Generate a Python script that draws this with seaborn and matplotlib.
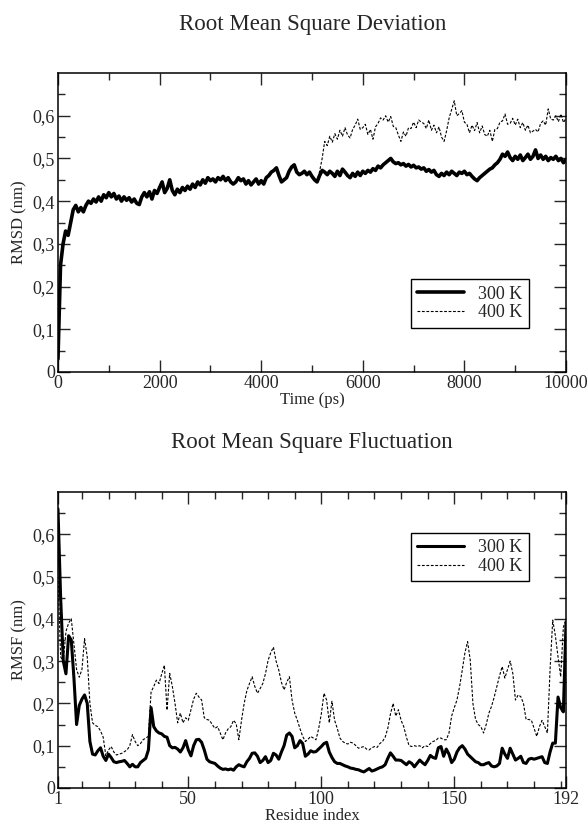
import numpy as np
import pandas as pd
import matplotlib
matplotlib.use("Agg")
import matplotlib.pyplot as plt
from matplotlib.ticker import FuncFormatter, FixedLocator
import seaborn as sns

# RMSD, one value every 50 ps (0 .. 10000 ps)
rmsd_step = 50
rmsd_300 = [
    0.03, 0.25, 0.30, 0.33, 0.32, 0.35, 0.38, 0.39, 0.375, 0.385,
    0.375, 0.39, 0.40, 0.395, 0.405, 0.398, 0.41, 0.40, 0.415, 0.408,
    0.42, 0.41, 0.418, 0.405, 0.412, 0.40, 0.41, 0.402, 0.408, 0.398,
    0.405, 0.395, 0.392, 0.41, 0.42, 0.41, 0.422, 0.405, 0.425, 0.418,
    0.432, 0.445, 0.42, 0.43, 0.45, 0.425, 0.415, 0.428, 0.42, 0.432,
    0.425, 0.435, 0.428, 0.44, 0.432, 0.445, 0.438, 0.45, 0.442, 0.455,
    0.448, 0.452, 0.445, 0.455, 0.45, 0.458, 0.448, 0.455, 0.445, 0.44,
    0.445, 0.455, 0.448, 0.452, 0.44, 0.448, 0.438, 0.445, 0.452, 0.44,
    0.448, 0.44, 0.455, 0.46, 0.468, 0.472, 0.478, 0.46, 0.445, 0.45,
    0.455, 0.47, 0.48, 0.485, 0.468, 0.462, 0.465, 0.47, 0.462, 0.468,
    0.458, 0.45, 0.445, 0.46, 0.472, 0.468, 0.462, 0.47, 0.465, 0.458,
    0.47, 0.46, 0.475, 0.468, 0.46, 0.455, 0.465, 0.458, 0.468, 0.46,
    0.47, 0.465, 0.472, 0.468, 0.476, 0.472, 0.482, 0.478, 0.485, 0.49,
    0.495, 0.50, 0.492, 0.488, 0.49, 0.485, 0.488, 0.482, 0.486, 0.48,
    0.484, 0.478, 0.48, 0.475, 0.478, 0.47, 0.474, 0.468, 0.472, 0.462,
    0.458, 0.465, 0.46, 0.468, 0.462, 0.47, 0.465, 0.46, 0.468, 0.465,
    0.47, 0.462, 0.465, 0.458, 0.452, 0.448, 0.455, 0.46, 0.465, 0.47,
    0.475, 0.478, 0.485, 0.49, 0.498, 0.51, 0.505, 0.515, 0.502, 0.495,
    0.505, 0.498, 0.508, 0.495, 0.502, 0.51, 0.498, 0.505, 0.52, 0.50,
    0.508, 0.498, 0.505, 0.495, 0.502, 0.498, 0.505, 0.495, 0.50, 0.49,
    0.497,
]
# 400 K run starts from the 300 K trajectory at 5100 ps
rmsd_400_start = 5100
rmsd_400 = [
    0.445, 0.47, 0.50, 0.54, 0.53, 0.552, 0.538, 0.558, 0.545, 0.566,
    0.552, 0.572, 0.555, 0.548, 0.568, 0.578, 0.592, 0.568, 0.572, 0.58,
    0.556, 0.568, 0.545, 0.574, 0.582, 0.595, 0.59, 0.6, 0.585, 0.598,
    0.575, 0.572, 0.555, 0.54, 0.562, 0.552, 0.572, 0.57, 0.585, 0.572,
    0.59, 0.585, 0.582, 0.57, 0.59, 0.566, 0.578, 0.56, 0.574, 0.55,
    0.54, 0.565, 0.595, 0.615, 0.635, 0.6, 0.605, 0.612, 0.585, 0.58,
    0.56, 0.578, 0.565, 0.584, 0.56, 0.576, 0.556, 0.552, 0.566, 0.54,
    0.568, 0.57, 0.585, 0.588, 0.604, 0.58, 0.582, 0.594, 0.578, 0.592,
    0.572, 0.584, 0.566, 0.578, 0.56, 0.564, 0.568, 0.562, 0.582, 0.588,
    0.578, 0.616, 0.592, 0.59, 0.6, 0.586, 0.604, 0.584, 0.594,
]

# RMSF per residue (1 .. 192)
rmsf_300 = [
    0.66, 0.45, 0.30, 0.27, 0.36, 0.35, 0.26, 0.15, 0.195, 0.21,
    0.22, 0.20, 0.11, 0.08, 0.078, 0.088, 0.095, 0.075, 0.065, 0.08,
    0.072, 0.062, 0.06, 0.062, 0.063, 0.065, 0.058, 0.05, 0.056, 0.05,
    0.05, 0.06, 0.065, 0.07, 0.09, 0.19, 0.145, 0.135, 0.13, 0.128,
    0.122, 0.12, 0.10, 0.095, 0.096, 0.092, 0.085, 0.095, 0.112, 0.09,
    0.076, 0.10, 0.114, 0.115, 0.108, 0.09, 0.068, 0.062, 0.06, 0.058,
    0.052, 0.047, 0.044, 0.045, 0.043, 0.045, 0.042, 0.05, 0.055, 0.052,
    0.05, 0.062, 0.07, 0.082, 0.083, 0.075, 0.06, 0.065, 0.074, 0.06,
    0.065, 0.082, 0.078, 0.068, 0.085, 0.10, 0.125, 0.13, 0.122, 0.095,
    0.10, 0.112, 0.105, 0.075, 0.08, 0.088, 0.085, 0.086, 0.092, 0.098,
    0.105, 0.108, 0.085, 0.072, 0.062, 0.058, 0.058, 0.055, 0.052, 0.05,
    0.047, 0.046, 0.044, 0.043, 0.04, 0.038, 0.042, 0.046, 0.04, 0.042,
    0.045, 0.048, 0.05, 0.055, 0.07, 0.083, 0.075, 0.066, 0.066, 0.065,
    0.06, 0.055, 0.062, 0.058, 0.05, 0.058, 0.066, 0.06, 0.055, 0.065,
    0.077, 0.072, 0.07, 0.095, 0.098, 0.075, 0.092, 0.08, 0.06, 0.068,
    0.085, 0.095, 0.10, 0.092, 0.08, 0.074, 0.068, 0.062, 0.06, 0.055,
    0.055, 0.058, 0.06, 0.052, 0.05, 0.052, 0.058, 0.094, 0.08, 0.07,
    0.094, 0.08, 0.066, 0.07, 0.075, 0.06, 0.058, 0.068, 0.07, 0.068,
    0.07, 0.072, 0.074, 0.06, 0.058, 0.085, 0.106, 0.106, 0.215, 0.19,
    0.18, 0.39,
]
rmsf_400 = [
    0.50, 0.31, 0.30, 0.37, 0.39, 0.40, 0.34, 0.28, 0.262, 0.28,
    0.353, 0.31, 0.20, 0.154, 0.148, 0.145, 0.135, 0.12, 0.076, 0.09,
    0.098, 0.085, 0.078, 0.08, 0.082, 0.086, 0.09, 0.10, 0.126, 0.11,
    0.10, 0.105, 0.114, 0.118, 0.122, 0.227, 0.24, 0.255, 0.247, 0.27,
    0.29, 0.184, 0.271, 0.24, 0.20, 0.154, 0.177, 0.154, 0.166, 0.16,
    0.185, 0.21, 0.224, 0.215, 0.208, 0.166, 0.162, 0.16, 0.15, 0.141,
    0.145, 0.13, 0.114, 0.13, 0.14, 0.145, 0.16, 0.152, 0.114, 0.16,
    0.20, 0.23, 0.247, 0.263, 0.24, 0.224, 0.235, 0.247, 0.27, 0.302,
    0.32, 0.333, 0.30, 0.279, 0.25, 0.232, 0.25, 0.263, 0.208, 0.177,
    0.16, 0.14, 0.122, 0.11, 0.115, 0.122, 0.118, 0.114, 0.14, 0.175,
    0.224, 0.208, 0.154, 0.205, 0.16, 0.141, 0.118, 0.11, 0.106, 0.104,
    0.108, 0.106, 0.10, 0.094, 0.096, 0.098, 0.092, 0.09, 0.095, 0.098,
    0.096, 0.105, 0.11, 0.12, 0.141, 0.175, 0.20, 0.17, 0.185, 0.16,
    0.145, 0.12, 0.10, 0.098, 0.10, 0.098, 0.10, 0.095, 0.10, 0.098,
    0.105, 0.11, 0.112, 0.118, 0.118, 0.114, 0.114, 0.13, 0.17, 0.19,
    0.208, 0.24, 0.279, 0.32, 0.346, 0.302, 0.20, 0.162, 0.15, 0.145,
    0.13, 0.15, 0.177, 0.193, 0.215, 0.24, 0.265, 0.287, 0.26, 0.28,
    0.30, 0.271, 0.208, 0.22, 0.216, 0.20, 0.162, 0.162, 0.16, 0.141,
    0.122, 0.145, 0.16, 0.145, 0.13, 0.279, 0.397, 0.36, 0.31, 0.263,
    0.38, 0.40,
]

sns.set_theme(style="ticks")
plt.rcParams["font.family"] = ["Liberation Serif", "DejaVu Serif"]
plt.rcParams["axes.linewidth"] = 1.1

df_rmsd300 = pd.DataFrame({"t": np.arange(len(rmsd_300)) * rmsd_step, "v": rmsd_300})
df_rmsd400 = pd.DataFrame({"t": rmsd_400_start + np.arange(len(rmsd_400)) * rmsd_step, "v": rmsd_400})
df_rmsf300 = pd.DataFrame({"r": np.arange(1, len(rmsf_300) + 1), "v": rmsf_300})
df_rmsf400 = pd.DataFrame({"r": np.arange(1, len(rmsf_400) + 1), "v": rmsf_400})

fig = plt.figure(figsize=(5.88, 8.27), dpi=100)
ax1 = fig.add_axes([0.0986, 0.5502, 0.864, 0.3615])
ax2 = fig.add_axes([0.0986, 0.0472, 0.864, 0.3579])

sns.lineplot(data=df_rmsd300, x="t", y="v", ax=ax1, color="black", lw=2.6, label="300 K")
sns.lineplot(data=df_rmsd400, x="t", y="v", ax=ax1, color="black", lw=0.8,
             label="400 K", dashes=False)
ax1.lines[-1].set_dashes([2.5, 1.5])

sns.lineplot(data=df_rmsf300, x="r", y="v", ax=ax2, color="black", lw=2.2, label="300 K")
sns.lineplot(data=df_rmsf400, x="r", y="v", ax=ax2, color="black", lw=0.8,
             label="400 K", dashes=False)
ax2.lines[-1].set_dashes([2.5, 1.5])

def comma(v, pos):
    if abs(v) < 1e-9:
        return "0"
    return f"{v:.1f}".replace(".", ",")

yticks = [0, 0.1, 0.2, 0.3, 0.4, 0.5, 0.6]
yminor = [0.05, 0.15, 0.25, 0.35, 0.45, 0.55, 0.65]

for ax in (ax1, ax2):
    ax.set_ylim(0, 0.7)
    ax.yaxis.set_major_locator(FixedLocator(yticks))
    ax.yaxis.set_minor_locator(FixedLocator(yminor))
    ax.yaxis.set_major_formatter(FuncFormatter(comma))
    ax.tick_params(which="both", direction="in", top=True, right=True,
                   labelsize=13, width=1.0, pad=2)
    ax.tick_params(which="major", length=8.5)
    ax.tick_params(which="minor", length=5)
    for s in ax.spines.values():
        s.set_visible(True)
        s.set_linewidth(1.1)
        s.set_color("black")

ax1.set_xlim(0, 10000)
ax1.xaxis.set_major_locator(FixedLocator([0, 2000, 4000, 6000, 8000, 10000]))
ax1.xaxis.set_minor_locator(FixedLocator([1000, 3000, 5000, 7000, 9000]))
ax1.set_xlabel("Time (ps)", fontsize=12, labelpad=0)
ax1.set_ylabel("RMSD (nm)", fontsize=12, labelpad=4)

ax2.set_xlim(1, 192)
ax2.xaxis.set_major_locator(FixedLocator([1, 50, 100, 150, 192]))
ax2.xaxis.set_minor_locator(FixedLocator([10, 20, 30, 40, 60, 70, 80, 90, 110, 120,
                                          130, 140, 160, 170, 180, 190]))
ax2.set_xlabel("Residue index", fontsize=12, labelpad=0)
ax2.set_ylabel("RMSF (nm)", fontsize=12, labelpad=4)

leg_kw = dict(fontsize=13, frameon=True, fancybox=False, framealpha=1,
              edgecolor="black", borderaxespad=0, handlelength=2.6,
              handletextpad=0.8, borderpad=0.35, labelspacing=0.1)
l1 = ax1.legend(loc="lower right", bbox_to_anchor=(0.927, 0.148), **leg_kw)
l2 = ax2.legend(loc="upper right", bbox_to_anchor=(0.927, 0.862), **leg_kw)
for leg in (l1, l2):
    leg.get_frame().set_linewidth(1.0)

fig.text(0.531, 1 - 30 / 827, "Root Mean Square Deviation", ha="center",
         va="baseline", fontsize=16.5)
fig.text(0.531, 1 - 448 / 827, "Root Mean Square Fluctuation", ha="center",
         va="baseline", fontsize=16.5)

fig.savefig("out.png", dpi=100, facecolor="white")
